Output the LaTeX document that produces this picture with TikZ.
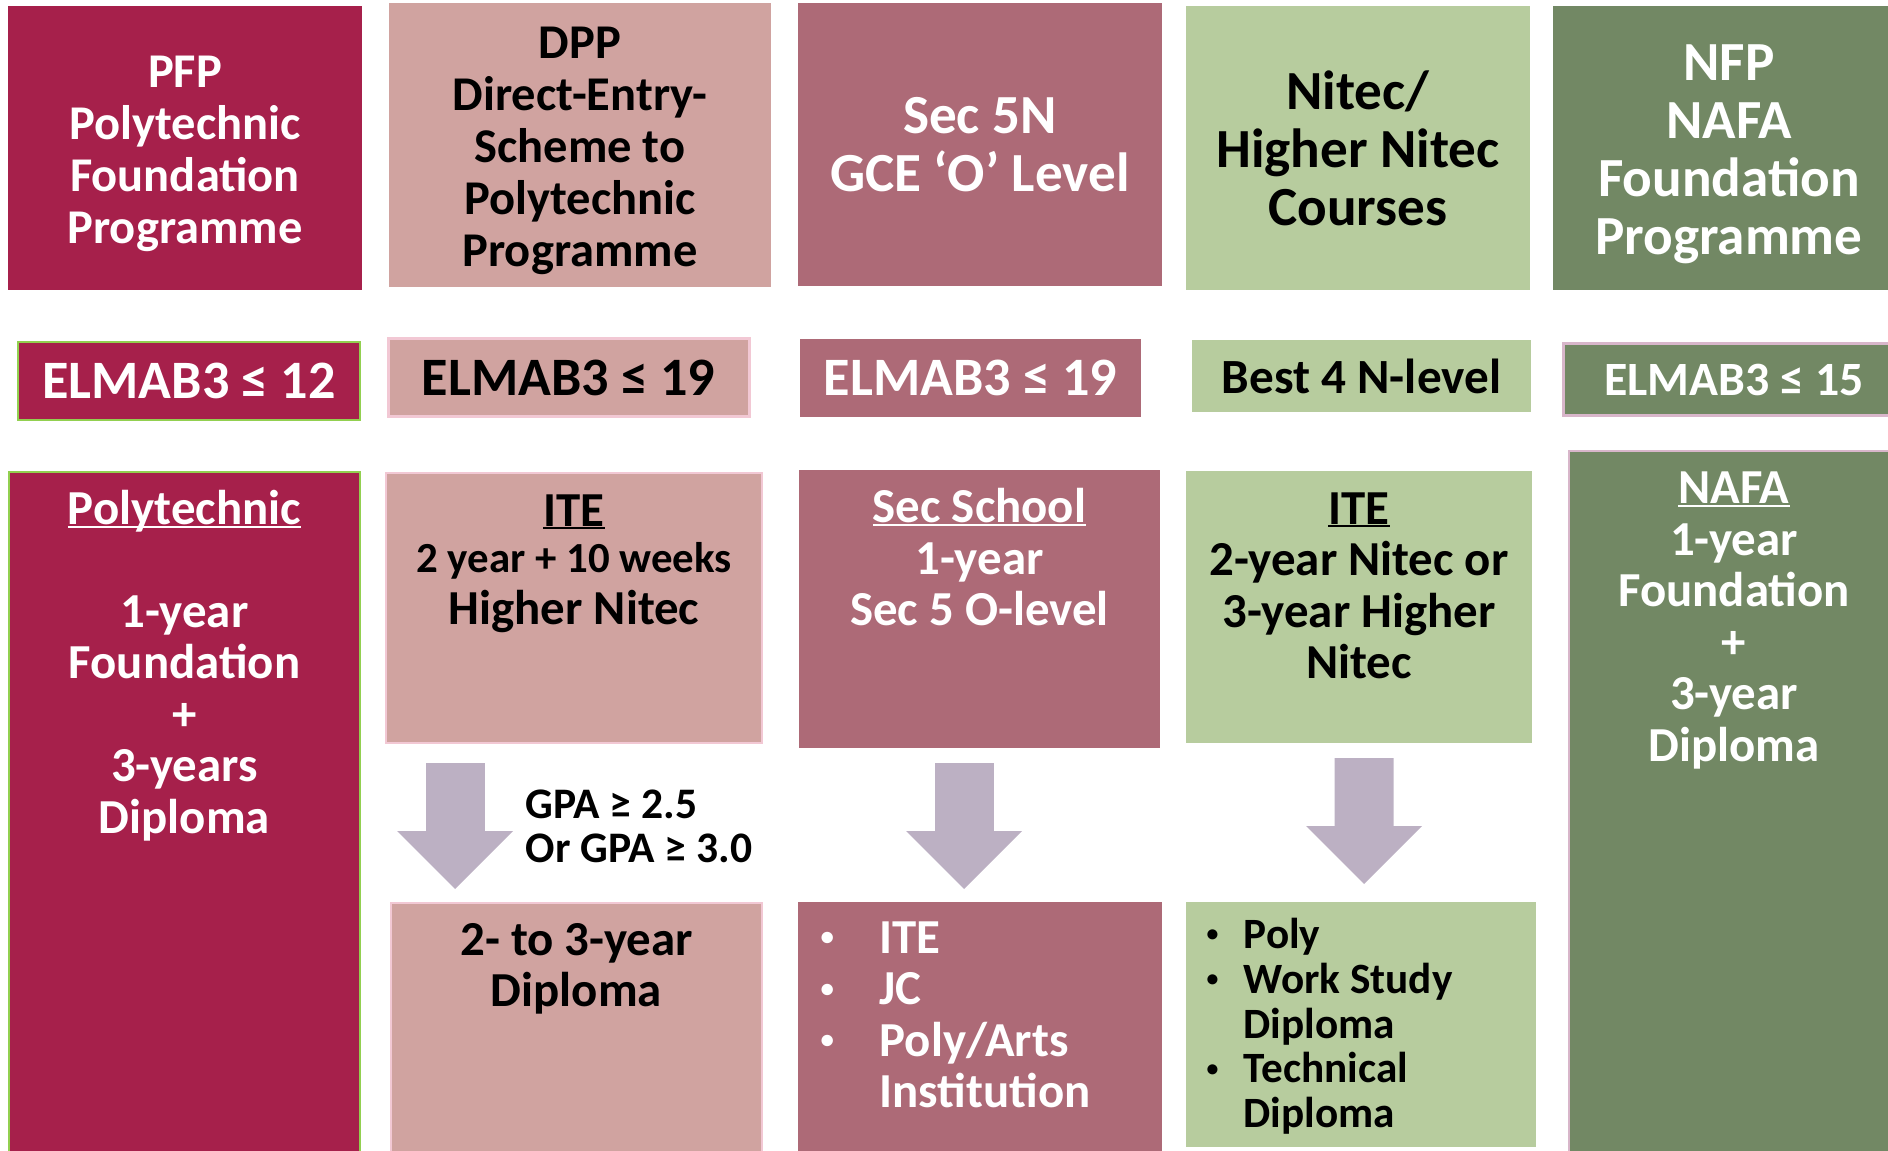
\documentclass[tikz,border=0pt]{standalone}
\usepackage{graphicx}
\usepackage{fontspec}
\setmainfont{Carlito}
\usetikzlibrary{positioning,arrows.meta}

\definecolor{pfpred}{HTML}{A6204B}
\definecolor{dpppink}{HTML}{D0A3A0}
\definecolor{secmauve}{HTML}{AD6A77}
\definecolor{nitecgreen}{HTML}{B7CC9E}
\definecolor{nfpolive}{HTML}{728864}
\definecolor{flowlilac}{HTML}{BCB0C3}
\definecolor{rimgreen}{HTML}{92D050}
\definecolor{rimpink}{HTML}{F2C8D4}
\definecolor{rimlilac}{HTML}{D8B6CA}

\newsavebox\undlnbox
\newcommand\undln[1]{\sbox\undlnbox{#1}\rlap{\rule[-0.3mm]{\wd\undlnbox}{0.22mm}}\usebox\undlnbox}
\newcommand\listdot[1]{\makebox[#1][l]{\hspace*{0.4mm}\raisebox{0.16em}{\scalebox{0.55}{\textbullet}}}}

\tikzset{
  box/.style={rectangle, inner sep=0pt, outer sep=0pt, align=center, font=\bfseries},
  headsmall/.style={box, font=\bfseries\fontsize{13.8}{14.8}\selectfont},
  headbig/.style={box, font=\bfseries\fontsize{15.7}{16.5}\selectfont},
  crit/.style={box, font=\bfseries\fontsize{15.4}{16}\selectfont},
  body/.style={inner sep=0pt, align=center, font=\bfseries\fontsize{13.9}{14.65}\selectfont},
  bodylist/.style={body, align=left},
  smalllist/.style={inner sep=0pt, align=left, font=\bfseries\fontsize{12.3}{12.8}\selectfont},
  flow/.style={color=flowlilac, line width=5.9mm,
    -{Triangle[length=5.8mm, width=11.6mm, line width=0pt]}}
}

\begin{document}
\begin{tikzpicture}[x=0.1mm, y=-0.1mm]
        \useasboundingbox (0,0) rectangle (1888,1151);
        \clip (0,0) rectangle (1888,1151);
        % \draw[help lines] (0,0) grid[step=100] (1888,1151);

        % schemes
        \node[headsmall, fill=pfpred, text=white, minimum width=35.4mm, minimum height=28.4mm] at (185,148) (pfp) {};
        \node[headsmall, text=white] at (185,154) (pfptxt) {PFP\\Polytechnic\\Foundation\\Programme};
        \node[headsmall, fill=dpppink, minimum width=38.2mm, minimum height=28.4mm] at (580,145) (dpp) {};
        \node[headsmall] at (580,151) (dpptxt) {DPP\\Direct-Entry-\\Scheme to\\Polytechnic\\Programme};
        \node[headbig, fill=secmauve, text=white, minimum width=36.4mm, minimum height=28.3mm] at (980,144.5) (sec) {Sec 5N\\GCE ‘O’ Level};
        \node[headbig, fill=nitecgreen, minimum width=34.4mm, minimum height=28.4mm] at (1358,148) (nitec) {Nitec/\\Higher Nitec\\Courses};
        \node[headbig, fill=nfpolive, minimum width=35.2mm, minimum height=28.4mm] at (1729,148) (nfp) {};
        \node[headbig, text=white] at (1729,154) (nfptxt) {NFP\\NAFA\\Foundation\\Programme};

        % entry criteria
        \node[crit, fill=pfpred, text=white, draw=rimgreen, line width=0.25mm, minimum width=34.2mm, minimum height=7.8mm] at (189,381) (c12) {ELMAB3 ≤ 12};
        \node[crit, fill=dpppink, draw=rimpink, line width=0.3mm, minimum width=36.1mm, minimum height=7.8mm] at (568.5,378) (c19a) {ELMAB3 ≤ 19};
        \node[crit, fill=secmauve, text=white, minimum width=34.1mm, minimum height=7.8mm] at (970.5,378) (c19b) {ELMAB3 ≤ 19};
        \node[crit, fill=nitecgreen, font=\bfseries\fontsize{14}{15}\selectfont, minimum width=33.9mm, minimum height=7.2mm] at (1361.5,376) (best4) {Best 4 N-level};
        \node[crit, fill=nfpolive, text=white, draw=rimlilac, line width=0.3mm, font=\bfseries\fontsize{13.6}{14}\selectfont, minimum width=34.2mm, minimum height=7.2mm] at (1734,380) (c15) {ELMAB3 ≤ 15};

        % courses
        \node[box, fill=pfpred, draw=rimgreen, line width=0.2mm, minimum width=35.1mm, minimum height=68.8mm] at (184.5,816) (polybox) {};
        \node[box, fill=dpppink, draw=rimpink, line width=0.2mm, minimum width=37.6mm, minimum height=27mm] at (574,608) (itea) {};
        \node[box, fill=dpppink, draw=rimpink, line width=0.2mm, minimum width=37.1mm, minimum height=25.7mm] at (576.5,1031.5) (dipl) {};
        \node[box, fill=secmauve, minimum width=36.1mm, minimum height=27.8mm] at (979.5,609) (secsch) {};
        \node[box, fill=secmauve, minimum width=36.4mm, minimum height=25.8mm] at (980,1031) (seclist) {};
        \node[box, fill=nitecgreen, minimum width=34.6mm, minimum height=27.2mm] at (1359,607) (iteb) {};
        \node[box, fill=nitecgreen, minimum width=35mm, minimum height=24.5mm] at (1361,1024.5) (nitlist) {};
        \node[box, fill=nfpolive, draw=rimlilac, line width=0.2mm, minimum width=33mm, minimum height=70.9mm] at (1734,805.5) (nafa) {};

        \node[body, text=white, below=1.8mm of polybox.north] (polytxt) {\undln{Polytechnic}\\[14.5pt]1-year\\Foundation\\+\\3-years\\Diploma};
        \node[body, below=2.1mm of itea.north] (itetxta) {\undln{ITE}\\[-0.5mm]{\fontsize{12.2}{13}\selectfont 2 year + 10 weeks}\\Higher Nitec};
        \node[body, below=1.95mm of dipl.north] (dipltxt) {2- to 3-year\\Diploma};
        \node[body, text=white, below=1.8mm of secsch.north] (sectxt) {\undln{Sec School}\\1-year\\Sec 5 O-level};
        \node[bodylist, text=white, below right=1.9mm and 1.8mm of seclist.north west] (seclisttxt)
            {\listdot{6.3mm}ITE\\\listdot{6.3mm}JC\\\listdot{6.3mm}Poly/Arts\\\hspace*{6.3mm}Institution};
        \node[body, below=2.1mm of iteb.north] (itetxtb) {\undln{ITE}\\2-year Nitec or\\3-year Higher\\Nitec};
        \node[smalllist, below right=1.5mm and 1.6mm of nitlist.north west] (nitlisttxt)
            {\listdot{4.1mm}Poly\\\listdot{4.1mm}Work Study\\\hspace*{4.1mm}Diploma\\\listdot{4.1mm}Technical\\\hspace*{4.1mm}Diploma};
        \node[body, text=white, below=2.05mm of nafa.north] (nafatxt) {\undln{NAFA}\\1-year\\Foundation\\+\\3-year\\Diploma};

        \node[smalllist, font=\bfseries\fontsize{12.4}{12.5}\selectfont, anchor=north west] at (525,789) (gpa) {GPA ≥ 2.5\\Or GPA ≥ 3.0};

        \path
        ([xshift=-11.9mm]itea.south) edge[flow, shorten <=2mm, shorten >=1.4mm] ([xshift=-12.15mm]dipl.north)
        ([xshift=-1.55mm]secsch.south) edge[flow, shorten <=1.5mm, shorten >=1.3mm] ([xshift=-1.6mm]seclist.north)
        ([xshift=0.5mm]iteb.south) edge[flow, shorten <=1.5mm, shorten >=1.8mm] ([xshift=0.3mm]nitlist.north);
\end{tikzpicture}
\end{document}
